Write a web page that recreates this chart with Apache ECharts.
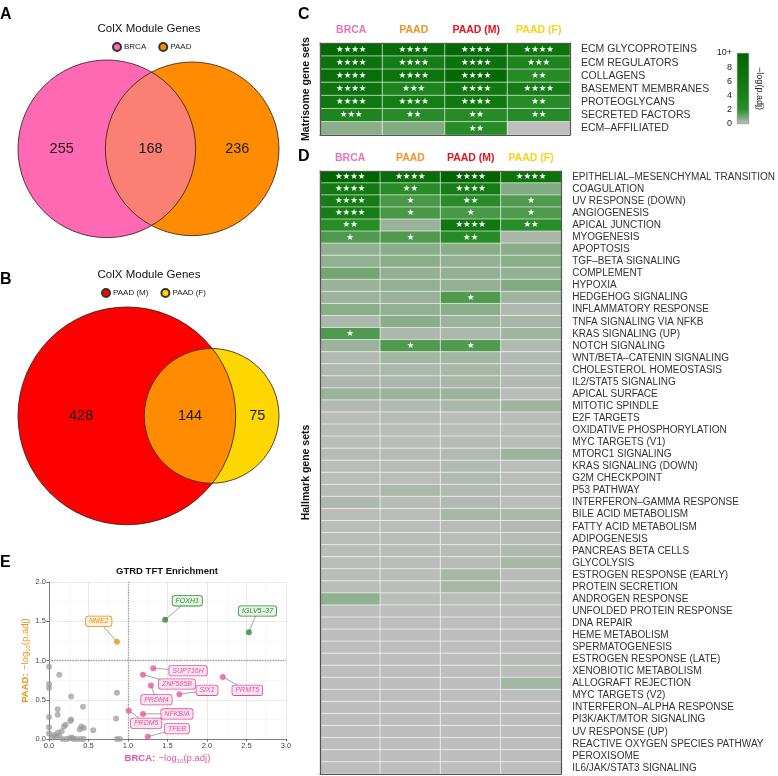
<!DOCTYPE html>
<html><head><meta charset="utf-8">
<script src="https://cdn.jsdelivr.net/npm/echarts@6/dist/echarts.min.js"></script>
<style>html,body{margin:0;padding:0;background:#fff}#c{width:778px;height:776px}</style>
</head><body><div id="c"></div>
<script>
const FONT = 'Liberation Sans, Arial, Helvetica, sans-serif';

// ---------------- DATA ----------------
// Panel A / B: Venn counts [only set1, both, only set2]
const vennASets = ['BRCA', 'PAAD'];
const vennACounts = [255, 168, 236];
const vennBSets = ['PAAD (M)', 'PAAD (F)'];
const vennBCounts = [428, 144, 75];

// Panel C / D heatmaps: -log(p.adj), columns = heatCols
const heatCols = ['BRCA', 'PAAD', 'PAAD (M)', 'PAAD (F)'];
const matrisomeSets = ['ECM GLYCOPROTEINS', 'ECM REGULATORS', 'COLLAGENS', 'BASEMENT MEMBRANES',
  'PROTEOGLYCANS', 'SECRETED FACTORS', 'ECM\u2013AFFILIATED'];
const matrisomeVals = [
  [9, 8, 9, 7], [7, 5, 7, 3.5], [8, 7, 9, 2.5], [7, 3.5, 6, 5],
  [6, 5, 6, 2.5], [3.5, 2.3, 2.5, 2.5], [0.7, 0.8, 2.4, 0]
];
const matrisomeStars = ['4444', '4443', '4442', '4344', '4442', '3222', '0020'];

const hallmarkSets = ['EPITHELIAL\u2013MESENCHYMAL TRANSITION', 'COAGULATION', 'UV RESPONSE (DOWN)', 'ANGIOGENESIS',
  'APICAL JUNCTION', 'MYOGENESIS', 'APOPTOSIS', 'TGF\u2013BETA SIGNALING', 'COMPLEMENT', 'HYPOXIA',
  'HEDGEHOG SIGNALING', 'INFLAMMATORY RESPONSE', 'TNFA SIGNALING VIA NFKB', 'KRAS SIGNALING (UP)',
  'NOTCH SIGNALING', 'WNT/BETA\u2013CATENIN SIGNALING', 'CHOLESTEROL HOMEOSTASIS', 'IL2/STAT5 SIGNALING',
  'APICAL SURFACE', 'MITOTIC SPINDLE', 'E2F TARGETS', 'OXIDATIVE PHOSPHORYLATION', 'MYC TARGETS (V1)',
  'MTORC1 SIGNALING', 'KRAS SIGNALING (DOWN)', 'G2M CHECKPOINT', 'P53 PATHWAY',
  'INTERFERON\u2013GAMMA RESPONSE', 'BILE ACID METABOLISM', 'FATTY ACID METABOLISM', 'ADIPOGENESIS',
  'PANCREAS BETA CELLS', 'GLYCOLYSIS', 'ESTROGEN RESPONSE (EARLY)', 'PROTEIN SECRETION',
  'ANDROGEN RESPONSE', 'UNFOLDED PROTEIN RESPONSE', 'DNA REPAIR', 'HEME METABOLISM', 'SPERMATOGENESIS',
  'ESTROGEN RESPONSE (LATE)', 'XENOBIOTIC METABOLISM', 'ALLOGRAFT REJECTION', 'MYC TARGETS (V2)',
  'INTERFERON\u2013ALPHA RESPONSE', 'PI3K/AKT/MTOR SIGNALING', 'UV RESPONSE (UP)',
  'REACTIVE OXYGEN SPECIES PATHWAY', 'PEROXISOME', 'IL6/JAK/STAT3 SIGNALING'];
const hallmarkVals = [
  [10, 8, 10, 7], [5.5, 2.2, 5, 0.8], [5, 1.6, 2.3, 1.5], [5, 1.6, 1.6, 1.5],
  [2.2, 0.5, 6, 2.2], [1.5, 1.5, 2.5, 0.3], [0.6, 0.7, 0.7, 0.7], [0.6, 0.7, 0.6, 0.7],
  [1.0, 0.6, 0.6, 0.6], [0.5, 0.6, 0.6, 0.8], [0.45, 0.5, 1.5, 0.4], [0.7, 0.6, 0.7, 0.2],
  [0.25, 0.7, 0.45, 0.3], [1.5, 0.25, 0.25, 0.4], [0.45, 1.5, 1.5, 0.2], [0.15, 0.35, 0.35, 0.15],
  [0.2, 0.25, 0.3, 0.15], [0.25, 0.25, 0.3, 0.15], [0.45, 0.45, 0.45, 0.1], [0.15, 0.15, 0.25, 0.4],
  [0.05, 0.1, 0.05, 0.05], [0.05, 0.05, 0.05, 0.05], [0.05, 0.05, 0.1, 0.05], [0.1, 0.1, 0.15, 0.45],
  [0.05, 0.1, 0.15, 0.05], [0.05, 0.05, 0.15, 0.05], [0.1, 0.25, 0.15, 0.1], [0.2, 0.1, 0.15, 0.05],
  [0.05, 0.05, 0.3, 0.25], [0.05, 0.05, 0.1, 0.15], [0.05, 0.05, 0.05, 0.1], [0.05, 0.05, 0.1, 0.2],
  [0.05, 0.05, 0.1, 0.3], [0.05, 0.05, 0.3, 0.1], [0.05, 0.05, 0.3, 0.05], [0.6, 0.05, 0.05, 0.05],
  [0.02, 0.02, 0.02, 0.02], [0.02, 0.02, 0.02, 0.02], [0.02, 0.02, 0.02, 0.02], [0.02, 0.02, 0.02, 0.02],
  [0.02, 0.02, 0.02, 0.1], [0.02, 0.02, 0.02, 0.05], [0.02, 0.02, 0.02, 0.35], [0.02, 0.02, 0.02, 0.02],
  [0.02, 0.02, 0.02, 0.02], [0.02, 0.02, 0.02, 0.02], [0.02, 0.02, 0.02, 0.02], [0.02, 0.02, 0.02, 0.02],
  [0.02, 0.02, 0.02, 0.02], [0.02, 0.02, 0.02, 0.02]
];
const hallmarkStars = ['4444', '4240', '4121', '4111', '2042', '1120', '0000', '0000', '0000', '0000',
  '0010', '0000', '0000', '1000', '0110', '0000', '0000', '0000', '0000', '0000',
  '0000', '0000', '0000', '0000', '0000', '0000', '0000', '0000', '0000', '0000',
  '0000', '0000', '0000', '0000', '0000', '0000', '0000', '0000', '0000', '0000',
  '0000', '0000', '0000', '0000', '0000', '0000', '0000', '0000', '0000', '0000'];
const colorbarTicks = [0, 2, 4, 6, 8, 10];

// Panel E: GTRD TFT enrichment, -log10(p.adj)
const tfNames = ['FOXH1', 'IGLV5\u201337', 'NME2', 'SUPT16H', 'ZNF585B', 'PRDM4', 'SIX1', 'PRMT5', 'NFKBIA', 'PRDM5', 'TFEB'];
const tfBRCA = [1.47, 2.53, 0.86, 1.32, 1.19, 1.29, 1.65, 2.20, 1.19, 1.01, 1.25];
const tfPAAD = [1.52, 1.36, 1.24, 0.90, 0.82, 0.68, 0.57, 0.79, 0.32, 0.36, 0.03];
const otherBRCA = [0, 0, 0, 0, 0, 0, 0.13, 0.28, 0.86, 0.11, 0.43, 0.11, 0.28, 0.27, 0.85, 0.21, 0.19, 0.16,
  0.11, 0.41, 0.44, 0.39, 0.56, 0.06, 0.04, 0.09, 0.13, 0.22, 0.26, 0.29, 0.31, 0.35, 0.40, 0.44, 0.17, 0.86, 0.90];
const otherPAAD = [0.92, 0.70, 0.65, 0.28, 0.15, 0.07, 0.82, 0.54, 0.59, 0.38, 0.41, 0.31, 0.25, 0.23, 0.26, 0.18, 0.16, 0.10,
  0.08, 0.16, 0.14, 0.12, 0.11, 0.05, 0.02, 0.03, 0.04, 0, 0.01, 0.02, 0, 0, 0, 0, 0, 0, 0];
const sigCut = 1.0;

// label anchor placement (layout, in data units)
const tfLabelX = [1.75, 2.64, 0.63, 1.76, 1.62, 1.36, 2.00, 2.51, 1.62, 1.23, 1.62];
const tfLabelY = [1.76, 1.63, 1.50, 0.87, 0.70, 0.50, 0.62, 0.62, 0.32, 0.20, 0.13];

// ---------------- STYLE ----------------
const vennAColors = ['#FF69B4', '#FF8C00', '#F98072'];
const vennBColors = ['#FF0000', '#FFD700', '#FF8C00'];
const headerColors = ['#EC72B6', '#F39325', '#E3141E', '#F7D21A'];
const heatColors = ['#BEBEBE', '#2A8E2A', '#1A811A', '#117811', '#096E09', '#006400'];
const catColor = {
  both: { pt: '#2E8B2E', text: '#2E8B2E', bg: '#E6F4E6' },
  paad: { pt: '#EE9020', text: '#E08A12', bg: '#FFF1DE' },
  brca: { pt: '#E9589E', text: '#E0519A', bg: '#FCE3F0' },
  none: { pt: 'rgba(150,150,150,0.85)' }
};
function tfCat(x, y) {
  if (x > sigCut && y > sigCut) return 'both';
  if (y > sigCut) return 'paad';
  if (x > sigCut) return 'brca';
  return 'none';
}

// ---------------- VENN GEOMETRY ----------------
function lensArea(r1, r2, d) {
  if (d >= r1 + r2) return 0;
  if (d <= Math.abs(r1 - r2)) return Math.PI * Math.min(r1, r2) ** 2;
  const a1 = Math.acos((d * d + r1 * r1 - r2 * r2) / (2 * d * r1));
  const a2 = Math.acos((d * d + r2 * r2 - r1 * r1) / (2 * d * r2));
  return r1 * r1 * a1 + r2 * r2 * a2 - 0.5 * Math.sqrt((-d + r1 + r2) * (d + r1 - r2) * (d - r1 + r2) * (d + r1 + r2));
}
function vennGeom(c) {
  const n1 = c[0] + c[1], n2 = c[2] + c[1];
  const r1 = Math.sqrt(n1 / Math.PI), r2 = Math.sqrt(n2 / Math.PI);
  let lo = Math.abs(r1 - r2), hi = r1 + r2;
  for (let i = 0; i < 200; i++) {
    const m = (lo + hi) / 2;
    if (lensArea(r1, r2, m) > c[1]) lo = m; else hi = m;
  }
  const d = (lo + hi) / 2;
  return { r1, r2, d, xMin: -r1, xMax: d + r2, rMax: Math.max(r1, r2) };
}
const gA = vennGeom(vennACounts), gB = vennGeom(vennBCounts);
const vennW = 261;
function vennGrid(g, top) {
  return { left: 18, top: top, width: vennW, height: vennW * 2 * g.rMax / (g.xMax - g.xMin) };
}

function vennSeries(g, sets, counts, colors, ai) {
  const circ = (col) => (p, api) => {
    const c = api.coord([api.value(0), api.value(1)]);
    const r = api.size([api.value(2), 0])[0];
    return { type: 'circle', shape: { cx: c[0], cy: c[1], r: r }, style: { fill: col } };
  };
  return [
    { type: 'custom', name: sets[0], xAxisIndex: ai, yAxisIndex: ai, silent: true, z: 1,
      itemStyle: { color: colors[0], borderColor: '#333', borderWidth: 0.6 },
      data: [[0, 0, g.r1]], renderItem: circ(colors[0]) },
    { type: 'custom', name: sets[1], xAxisIndex: ai, yAxisIndex: ai, silent: true, z: 1,
      itemStyle: { color: colors[1], borderColor: '#333', borderWidth: 0.6 },
      data: [[g.d, 0, g.r2]], renderItem: circ(colors[1]) },
    { type: 'custom', xAxisIndex: ai, yAxisIndex: ai, silent: true, z: 3,
      data: [[0, 0]],
      renderItem: (p, api) => {
        const { r1, r2, d } = g;
        const a = (d * d + r1 * r1 - r2 * r2) / (2 * d);
        const h = Math.sqrt(r1 * r1 - a * a);
        const t1 = Math.atan2(h, a), t2 = Math.atan2(h, d - a);
        const pts = [], N = 90;
        for (let i = 0; i <= N; i++) { const t = -t1 + 2 * t1 * i / N; pts.push(api.coord([r1 * Math.cos(t), r1 * Math.sin(t)])); }
        for (let i = 0; i <= N; i++) { const t = Math.PI - t2 + 2 * t2 * i / N; pts.push(api.coord([d + r2 * Math.cos(t), r2 * Math.sin(t)])); }
        const c1 = api.coord([0, 0]), c2 = api.coord([d, 0]);
        const R1 = api.size([r1, 0])[0], R2 = api.size([r2, 0])[0];
        const xs = [(-r1 + d - r2) / 2, (d - r2 + r1) / 2, (r1 + d + r2) / 2];
        const texts = xs.map((x, i) => {
          const q = api.coord([x, 0]);
          return { type: 'text', x: q[0], y: q[1], style: { text: String(counts[i]), fontSize: 14.5, fontFamily: FONT, fill: '#1a1a1a', align: 'center', verticalAlign: 'middle' } };
        });
        return { type: 'group', children: [
          { type: 'polygon', shape: { points: pts }, style: { fill: colors[2] } },
          { type: 'circle', shape: { cx: c1[0], cy: c1[1], r: R1 }, style: { fill: 'none', stroke: '#2a1a1a', lineWidth: 0.8 } },
          { type: 'circle', shape: { cx: c2[0], cy: c2[1], r: R2 }, style: { fill: 'none', stroke: '#2a1a1a', lineWidth: 0.8 } }
        ].concat(texts) };
      } }
  ];
}

// ---------------- HEATMAP HELPERS ----------------
function heatData(vals) {
  const out = [];
  vals.forEach((row, r) => row.forEach((v, c) => out.push([c, r, v])));
  return out;
}
const starStr = (n) => '\u2605'.repeat(n);
const headerRich = {};
headerColors.forEach((c, i) => { headerRich['h' + i] = { color: c, fontWeight: 'bold', fontSize: 10.5, fontFamily: FONT }; });
function headerAxis(gi) {
  return { type: 'category', gridIndex: gi, data: heatCols, position: 'top', z: 10,
    axisLine: { show: true, lineStyle: { color: '#555', width: 1.2 } }, axisTick: { show: false },
    axisLabel: { interval: 0, hideOverlap: false, margin: 7, formatter: (v) => '{h' + heatCols.indexOf(v) + '|' + v + '}', rich: headerRich } };
}
function bottomAxis(gi) {
  return { type: 'category', gridIndex: gi, data: heatCols, position: 'bottom', z: 10,
    axisLine: { show: true, lineStyle: { color: '#555', width: 1.2 } }, axisTick: { show: false }, axisLabel: { show: false } };
}
function rowAxis(gi, rows, fs) {
  return { type: 'category', gridIndex: gi, data: rows, inverse: true, position: 'right', z: 10,
    axisLine: { show: true, lineStyle: { color: '#555', width: 1.2 } }, axisTick: { show: false },
    axisLabel: { interval: 0, margin: 11, fontSize: fs, color: '#333', fontFamily: FONT } };
}
function leftAxis(gi, rows, name) {
  return { type: 'category', gridIndex: gi, data: rows, inverse: true, position: 'left', z: 10,
    axisLine: { show: true, lineStyle: { color: '#555', width: 1.2 } }, axisTick: { show: false }, axisLabel: { show: false },
    name: name, nameLocation: 'middle', nameRotate: 90, nameGap: 8,
    nameTextStyle: { fontWeight: 'bold', fontSize: 10.5, color: '#111', fontFamily: FONT } };
}
function heatSeries(xi, vals, stars) {
  return { type: 'heatmap', xAxisIndex: xi, yAxisIndex: xi, data: heatData(vals), silent: true,
    itemStyle: { borderColor: '#fff', borderWidth: 0.6 },
    label: { show: true, color: '#fff', fontSize: 8.5, fontFamily: 'DejaVu Sans',
      formatter: (p) => starStr(+stars[p.value[1]][p.value[0]]) },
    emphasis: { disabled: true } };
}

// ---------------- PANEL E ----------------
const allPts = tfBRCA.map((x, i) => [x, tfPAAD[i]]).concat(otherBRCA.map((x, i) => [x, otherPAAD[i]]));
const subRich = (col) => ({
  b: { fontWeight: 'bold', color: col, fontSize: 9.5, fontFamily: FONT, lineHeight: 12 },
  t: { color: col, fontSize: 9.5, fontFamily: FONT, lineHeight: 12 },
  s: { color: col, fontSize: 6, fontFamily: FONT, lineHeight: 12, verticalAlign: 'bottom', padding: [5, 0, 0, 0] }
});

const gradStops = heatColors.map((c, i) => ({ offset: i / (heatColors.length - 1), color: c }));

const option = {
  animation: false,
  textStyle: { fontFamily: FONT },
  title: [
    { text: 'A', left: 0, top: 7, padding: 0, textStyle: { fontSize: 16, fontWeight: 'bold', color: '#000' } },
    { text: 'B', left: 0, top: 272, padding: 0, textStyle: { fontSize: 16, fontWeight: 'bold', color: '#000' } },
    { text: 'C', left: 298, top: 7, padding: 0, textStyle: { fontSize: 16, fontWeight: 'bold', color: '#000' } },
    { text: 'D', left: 298, top: 149, padding: 0, textStyle: { fontSize: 16, fontWeight: 'bold', color: '#000' } },
    { text: 'E', left: 0, top: 555, padding: 0, textStyle: { fontSize: 16, fontWeight: 'bold', color: '#000' } },
    { text: 'ColX Module Genes', left: 149, top: 23, textAlign: 'center', padding: 0, textStyle: { fontSize: 11.5, fontWeight: 'normal', color: '#111' } },
    { text: 'ColX Module Genes', left: 149, top: 269, textAlign: 'center', padding: 0, textStyle: { fontSize: 11.5, fontWeight: 'normal', color: '#111' } },
    { text: 'GTRD TFT Enrichment', left: 167, top: 566, textAlign: 'center', padding: 0, textStyle: { fontSize: 9.5, fontWeight: 'bold', color: '#111' } }
  ],
  legend: [
    { data: vennASets, left: 112, top: 42, padding: 0, icon: 'circle', itemWidth: 8, itemHeight: 8, itemGap: 12, selectedMode: false,
      textStyle: { fontSize: 8, color: '#222', padding: [0, 0, 0, -2] } },
    { data: vennBSets, left: 101, top: 288, padding: 0, icon: 'circle', itemWidth: 8, itemHeight: 8, itemGap: 12, selectedMode: false,
      textStyle: { fontSize: 8, color: '#222', padding: [0, 0, 0, -2] } }
  ],
  grid: [
    vennGrid(gA, 60),
    vennGrid(gB, 307),
    { left: 320, top: 43, width: 250, height: 92 },
    { left: 320, top: 171, width: 250, height: 603 },
    { left: 737, top: 53, width: 12, height: 71 },
    { left: 49, top: 582, width: 237, height: 157 }
  ],
  xAxis: [
    { type: 'value', gridIndex: 0, min: gA.xMin, max: gA.xMax, show: false },
    { type: 'value', gridIndex: 1, min: gB.xMin, max: gB.xMax, show: false },
    headerAxis(2), bottomAxis(2),
    headerAxis(3), bottomAxis(3),
    { type: 'category', gridIndex: 4, data: ['cb'], show: false },
    { type: 'value', gridIndex: 5, min: 0, max: 3, interval: 0.5,
      axisLine: { show: true, lineStyle: { color: '#666', width: 0.8 } },
      axisTick: { show: true, length: 2.5, lineStyle: { color: '#666' } },
      axisLabel: { fontSize: 7.5, color: '#444', margin: 3, formatter: (v) => v.toFixed(1) },
      splitLine: { show: true, lineStyle: { color: '#E3E3E3', width: 0.8 } },
      minorTick: { show: false, splitNumber: 2 },
      minorSplitLine: { show: true, lineStyle: { color: '#F1F1F1', width: 0.6 } },
      name: '{b|BRCA:} {t|\u2212log}{s|10}{t|(p.adj)}', nameLocation: 'middle', nameGap: 13,
      nameTextStyle: { rich: subRich('#E3559F') } }
  ],
  yAxis: [
    { type: 'value', gridIndex: 0, min: -gA.rMax, max: gA.rMax, show: false },
    { type: 'value', gridIndex: 1, min: -gB.rMax, max: gB.rMax, show: false },
    rowAxis(2, matrisomeSets, 10.5), leftAxis(2, matrisomeSets, 'Matrisome gene sets'),
    rowAxis(3, hallmarkSets, 10), leftAxis(3, hallmarkSets, 'Hallmark gene sets'),
    { type: 'value', gridIndex: 4, min: 0, max: 10, interval: 2, position: 'left',
      axisLine: { show: false }, axisTick: { show: false }, splitLine: { show: false },
      axisLabel: { fontSize: 9, color: '#222', margin: 5, formatter: (v) => v === 10 ? '10+' : String(v) } },
    { type: 'value', gridIndex: 4, min: 0, max: 10, interval: 2, position: 'right',
      axisLine: { show: false }, axisTick: { show: false }, splitLine: { show: false }, axisLabel: { show: false },
      name: '\u2212log(p.adj)', nameLocation: 'middle', nameRotate: -90, nameGap: 6,
      nameTextStyle: { fontSize: 9, color: '#222' } },
    { type: 'value', gridIndex: 5, min: 0, max: 2, interval: 0.5,
      axisLine: { show: true, lineStyle: { color: '#666', width: 0.8 } },
      axisTick: { show: true, length: 2.5, lineStyle: { color: '#666' } },
      axisLabel: { fontSize: 7.5, color: '#444', margin: 3, formatter: (v) => v.toFixed(1) },
      splitLine: { show: true, lineStyle: { color: '#E3E3E3', width: 0.8 } },
      minorTick: { show: false, splitNumber: 2 },
      minorSplitLine: { show: true, lineStyle: { color: '#F1F1F1', width: 0.6 } },
      name: '{b|PAAD:} {t|\u2212log}{s|10}{t|(p.adj)}', nameLocation: 'middle', nameGap: 13, nameRotate: 90,
      nameTextStyle: { rich: subRich('#EE9020') } }
  ],
  visualMap: [{ type: 'continuous', show: false, min: 0, max: 10, seriesIndex: [6, 7], inRange: { color: heatColors } }],
  series: [].concat(
    vennSeries(gA, vennASets, vennACounts, vennAColors, 0),
    vennSeries(gB, vennBSets, vennBCounts, vennBColors, 1),
    [
      heatSeries(2, matrisomeVals, matrisomeStars),
      heatSeries(4, hallmarkVals, hallmarkStars),
      { type: 'bar', xAxisIndex: 6, yAxisIndex: 6, data: [colorbarTicks[colorbarTicks.length - 1]], barWidth: '100%', silent: true,
        itemStyle: { color: new echarts.graphic.LinearGradient(0, 1, 0, 0, gradStops), borderColor: '#777', borderWidth: 0.5 } },
      { type: 'custom', xAxisIndex: 7, yAxisIndex: 8, silent: true, z: 3,
        data: tfNames.map((n, i) => [tfBRCA[i], tfPAAD[i], tfLabelX[i], tfLabelY[i], i]),
        renderItem: (p, api) => {
          const a = api.coord([api.value(0), api.value(1)]);
          const b = api.coord([api.value(2), api.value(3)]);
          const i = api.value(4);
          const c = catColor[tfCat(tfBRCA[i], tfPAAD[i])];
          return { type: 'group', children: [
            { type: 'line', shape: { x1: a[0], y1: a[1], x2: b[0], y2: b[1] }, style: { stroke: '#8c8c8c', lineWidth: 0.8 } },
            { type: 'text', x: b[0], y: b[1], style: { text: tfNames[i], align: 'center', verticalAlign: 'middle',
              fontSize: 7, fontStyle: 'italic', fontFamily: FONT, fill: c.text, backgroundColor: c.bg,
              borderColor: c.text, borderWidth: 0.8, borderRadius: 2, padding: [1.5, 3, 1, 3] } }
          ] };
        } },
      { type: 'scatter', xAxisIndex: 7, yAxisIndex: 8, silent: true, z: 5, symbolSize: 6,
        data: allPts,
        itemStyle: { color: (p) => catColor[tfCat(p.value[0], p.value[1])].pt },
        markLine: { silent: true, symbol: ['none', 'none'], label: { show: false },
          lineStyle: { type: 'dotted', color: '#999', width: 1.3 },
          data: [{ xAxis: sigCut }, { yAxis: sigCut }] } }
    ]
  )
};

const chart = echarts.init(document.getElementById('c'), null, { renderer: 'canvas' });
chart.setOption(option);
</script></body></html>
